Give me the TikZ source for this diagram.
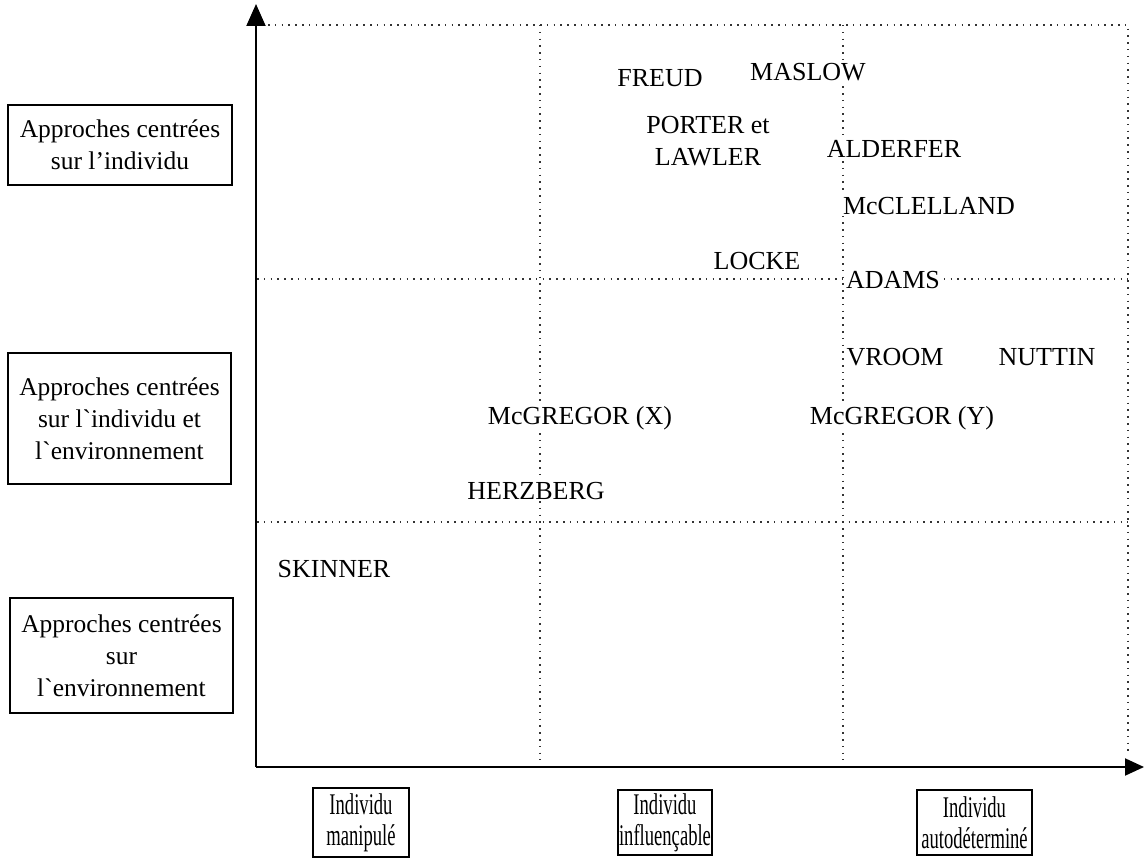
\documentclass[tikz,border=0pt]{standalone}
\usepackage{fontspec}
\setmainfont{Liberation Serif}
\newfontfamily\narrowserif[FakeStretch=0.62]{Liberation Serif}
\usetikzlibrary{arrows.meta}

\begin{document}
\begin{tikzpicture}[x=1pt,y=-1pt,
  axisline/.style={line width=2pt},
  gridline/.style={line width=1.4pt, dash pattern=on 1.5pt off 5.3pt, black!80},
  approach/.style={draw, line width=1.3pt, inner sep=0pt, align=center,
    font=\fontsize{25.5}{32}\selectfont},
  level/.style={draw, line width=1.3pt, inner sep=0pt, align=center,
    font=\narrowserif\fontsize{30}{31}\selectfont},
  author/.style={fill=white, inner sep=2pt, anchor=base,
    font=\fontsize{26}{32}\selectfont},
]
\useasboundingbox (0,0) rectangle (1145,867);

% axes origin and tips
\coordinate (O) at (256,767);
\coordinate (ytip) at (256,4);
\coordinate (xtip) at (1144,767);

% dotted grid
\coordinate (tl) at (268,25);
\coordinate (tr) at (1128,25);
\coordinate (br) at (1128,752);
\coordinate (v1t) at (540,25);
\coordinate (v1b) at (540,760);
\coordinate (v2t) at (843,25);
\coordinate (v2b) at (843,760);
\coordinate (h1l) at (257,279);
\coordinate (h1r) at (1128,279);
\coordinate (h2l) at (257,522);
\coordinate (h2r) at (1128,522);

\draw[gridline] (tl) -- (tr) -- (br);
\draw[gridline] (v1t) -- (v1b);
\draw[gridline] (v2t) -- (v2b);
\draw[gridline] (h1l) -- (h1r);
\draw[gridline] (h2l) -- (h2r);

% axes
\draw[axisline, -{Triangle[length=22pt,width=19pt]}] (O) -- (ytip);
\draw[axisline, -{Triangle[length=19pt,width=17pt]}] (O) -- (xtip);

% vertical axis categories
\node[approach, minimum width=224pt, minimum height=80pt] (indiv) at (120,145)
  {Approches centrées\\sur l’individu};
\node[approach, minimum width=223pt, minimum height=131pt] (mixte) at (119.5,418.5)
  {Approches centrées\\sur l\textasciigrave individu et\\l\textasciigrave environnement};
\node[approach, minimum width=223pt, minimum height=115pt] (envir) at (121.5,655.5)
  {Approches centrées\\sur\\l\textasciigrave environnement};

% horizontal axis categories
\node[level, minimum width=96pt, minimum height=69pt] (manip) at (361,822.5)
  {Individu\\manipulé};
\node[level, minimum width=94pt, minimum height=65pt] (influ) at (665,822.5)
  {Individu\\influençable};
\node[level, minimum width=115pt, minimum height=65pt] (autod) at (974.5,822.5)
  {Individu\\autodéterminé};

% authors
\node[author] (freud) at (660,86) {FREUD};
\node[author] (maslow) at (808,81) {MASLOW};
\node[fill=white, inner sep=2pt, align=center, font=\fontsize{26}{32}\selectfont]
  (porter) at (708,141) {PORTER et\\LAWLER};
\node[author] (alderfer) at (894,157) {ALDERFER};
\node[author] (mcclelland) at (929,214) {McCLELLAND};
\node[author] (locke) at (757,269) {LOCKE};
\node[author] (adams) at (893,288) {ADAMS};
\node[author] (vroom) at (895,365) {VROOM};
\node[author] (nuttin) at (1047,365) {NUTTIN};
\node[author] (mcgx) at (580,424) {McGREGOR (X)};
\node[author] (mcgy) at (902,424) {McGREGOR (Y)};
\node[author] (herzberg) at (536,499) {HERZBERG};
\node[author] (skinner) at (334,577) {SKINNER};
\end{tikzpicture}
\end{document}
